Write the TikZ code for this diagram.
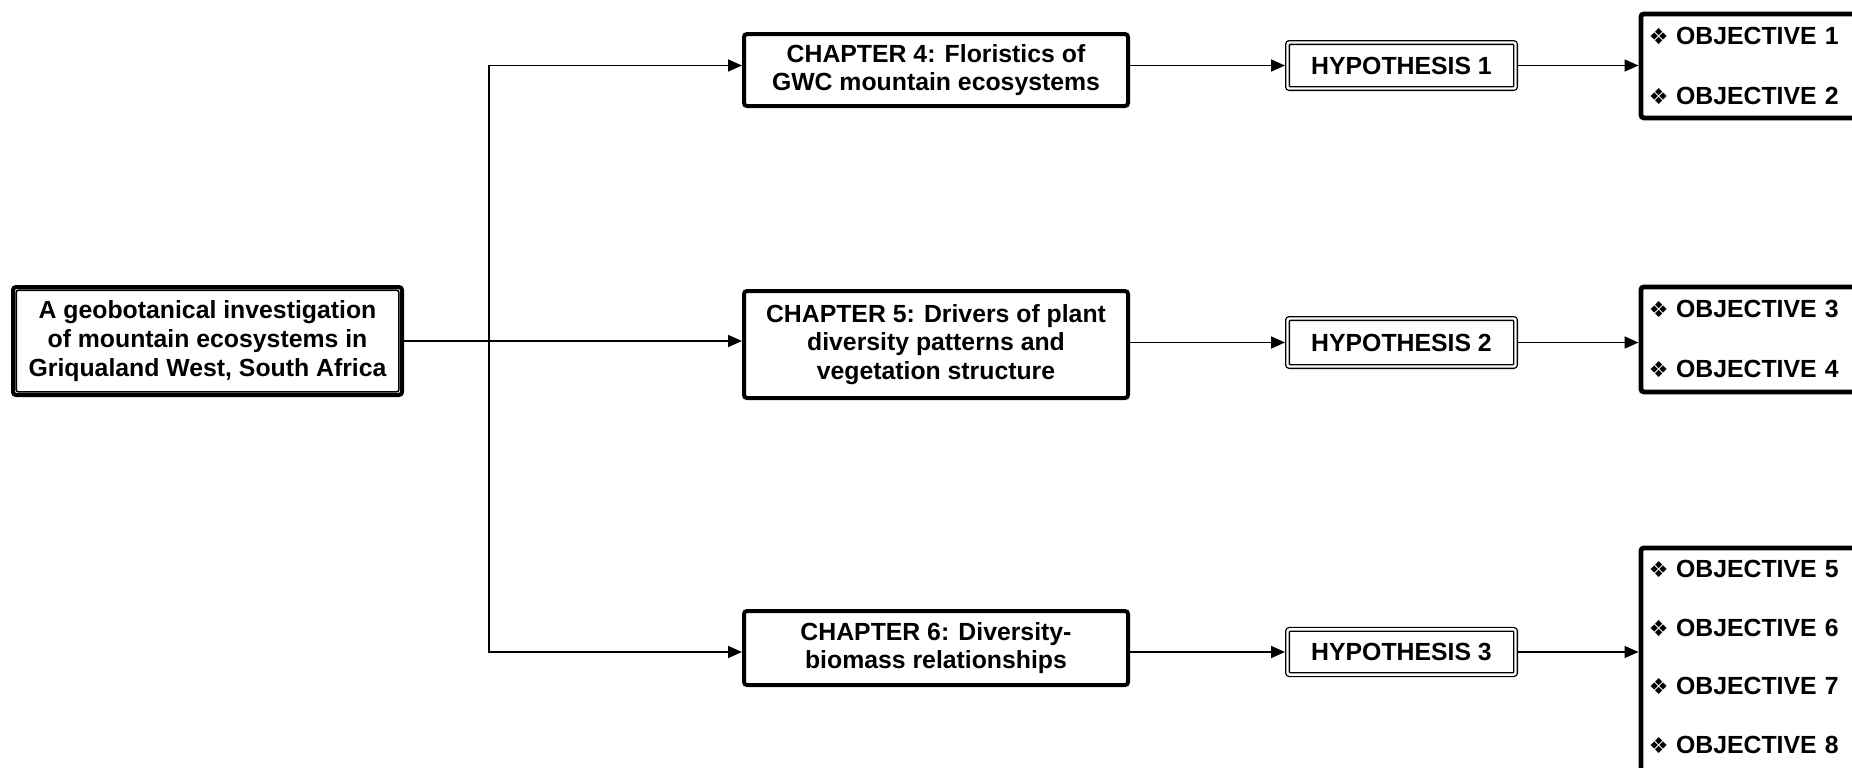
\documentclass[tikz,border=0pt]{standalone}
\usepackage{fontspec}
\setmainfont{Liberation Sans}
\newfontfamily\symfont{DejaVu Sans}
\usetikzlibrary{arrows.meta}
\newcommand{\objmark}{{\symfont\mdseries\fontsize{11}{11}\selectfont ❖}\hspace{0.3em}}

\tikzset{
  chapbox/.style={draw, line width=2pt, rounded corners=1.5pt, align=center,
    font=\bfseries\fontsize{12.4}{14.4}\selectfont, minimum width=192pt},
  mainbox/.style={chapbox, minimum width=194.5pt},
  inline/.style={line width=0.8pt, rounded corners=1pt},
  hypbox/.style={draw, double, line width=0.65pt, double distance=1.2pt,
    rounded corners=1pt, outer sep=1.25pt, minimum width=114pt,
    font=\bfseries\fontsize{12.4}{14.4}\selectfont},
  objbox/.style={draw, line width=2.4pt, rounded corners=1.5pt, anchor=north west,
    align=left, text width=150pt, inner xsep=4pt,
    font=\bfseries\fontsize{12.4}{30}\selectfont},
  link/.style={-{Triangle[length=7pt,width=6pt]}, line width=0.85pt}
}

\begin{document}
\begin{tikzpicture}[x=0.5pt,y=-0.5pt]
            \useasboundingbox (0,0) rectangle (1852,767);
            \clip (0,0) rectangle (1852,767);

            \node[mainbox,minimum height=54pt] (main) at (207.5,341) {A geobotanical investigation\\of mountain ecosystems in\\Griqualand West, South Africa};
            \draw[inline] ([shift={(2.6pt,-2.6pt)}]main.north west) rectangle ([shift={(-2.6pt,2.6pt)}]main.south east);

            \node[chapbox,minimum height=36pt] (ch4) at (936,70) {CHAPTER 4: Floristics of\\GWC mountain ecosystems};
            \node[chapbox,minimum height=53.5pt] (ch5) at (936,344.5) {CHAPTER 5: Drivers of plant\\diversity patterns and\\vegetation structure};
            \node[chapbox,minimum height=37pt] (ch6) at (936,648) {CHAPTER 6: Diversity-\\biomass relationships};

            \node[hypbox,minimum height=23pt] (hyp1) at (1401.5,65.5) {HYPOTHESIS 1};
            \node[hypbox,minimum height=24pt] (hyp2) at (1401.5,342.5) {HYPOTHESIS 2};
            \node[hypbox,minimum height=22.6pt] (hyp3) at (1401.5,652) {HYPOTHESIS 3};

            \node[objbox,minimum height=52pt] (obj1) at (1638.5,11.5) {\objmark OBJECTIVE 1\\\objmark OBJECTIVE 2};
            \node[objbox,minimum height=52.5pt] (obj2) at (1638.5,284.5) {\objmark OBJECTIVE 3\\\objmark OBJECTIVE 4};
            \node[objbox,minimum height=113pt,font=\bfseries\fontsize{12.4}{29.3}\selectfont] (obj3) at (1638.5,545.5) {\objmark OBJECTIVE 5\\\objmark OBJECTIVE 6\\\objmark OBJECTIVE 7\\\objmark OBJECTIVE 8\rule[-4pt]{0pt}{4pt}};

            \coordinate (split) at (489,341);
            \draw[link] (main.east) -- (ch5.west |- main.east);
            \draw[link] (split) |- (ch4.west |- hyp1);
            \draw[link] (split) |- (ch6.west |- hyp3);
            \draw[link] (ch4.east |- hyp1) -- (hyp1);
            \draw[link] (ch5.east |- hyp2) -- (hyp2);
            \draw[link] (ch6.east |- hyp3) -- (hyp3);
            \draw[link] (hyp1) -- (obj1.west |- hyp1);
            \draw[link] (hyp2) -- (obj2.west |- hyp2);
            \draw[link] (hyp3) -- (obj3.west |- hyp3);

          \end{tikzpicture}
\end{document}
